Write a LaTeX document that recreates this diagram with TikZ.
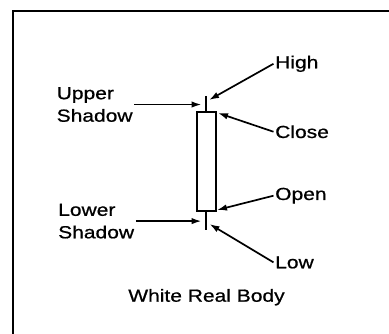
\documentclass[tikz,border=0pt]{standalone}
\usepackage{fontspec}
\setmainfont{Liberation Sans}[FakeStretch=1.2,FakeBold=0.8]
\usepackage{tikz}
\usetikzlibrary{arrows.meta,positioning}

\begin{document}
\begin{tikzpicture}[x=1pt,y=-1pt,>={Latex[length=10pt,width=6.5pt]},
						lbl/.style={font=\fontsize{17.5}{22.5}\selectfont,inner sep=1.5pt},
						candle/.style={draw,line width=2pt,inner sep=0pt,minimum width=19pt,minimum height=99pt},
						wick/.style={line width=1.6pt},
						point/.style={->,line width=1.7pt}]
						\useasboundingbox (0,0) rectangle (389,334);

						%%% Frame
						\draw [line width=2.2pt] (13,334) -- (13,11) -- (389,11);

						%%% Candle
						\node at (206,162) [candle] (body) {};
						\coordinate (highEnd) at (206,96);
						\coordinate (lowEnd) at (206,230);
						\draw [wick] (highEnd) -- (body.north);
						\draw [wick] (body.south) -- (lowEnd);

						%% Arrow tips
						\coordinate (highTip) at (209,100);
						\coordinate (closeTip) at (218,113);
						\coordinate (openTip) at (217,210);
						\coordinate (lowTip) at (209.5,224);
						\coordinate (upperTip) at (201.5,105);
						\coordinate (lowerTip) at (201.5,221);

						%%% Right labels
						\node at (273.5,68.3) [lbl,anchor=base west] (high) {High};
						\node at (273.5,138) [lbl,anchor=base west] (close) {Close};
						\node at (273.5,200) [lbl,anchor=base west] (open) {Open};
						\node at (273.5,268.3) [lbl,anchor=base west] (low) {Low};
						\path [point] (high.west) edge (highTip);
						\path [point] (close.west) edge (closeTip);
						\path [point] (open.west) edge (openTip);
						\path [point] (low.west) edge (lowTip);

						%%% Left labels (base is the last line)
						\node at (55,121.7) [lbl,anchor=base west,align=left] (upper) {Upper\\Shadow};
						\node at (56.5,238.3) [lbl,anchor=base west,align=left] (lower) {Lower\\Shadow};
						\path [point] (upper.east) edge (upper.east -| upperTip);
						\path [point] (lower.east) edge (lower.east -| lowerTip);

						%%% Caption
						\node at (206.5,301.7) [lbl,anchor=base] (caption) {White Real Body};
					\end{tikzpicture}
\end{document}
